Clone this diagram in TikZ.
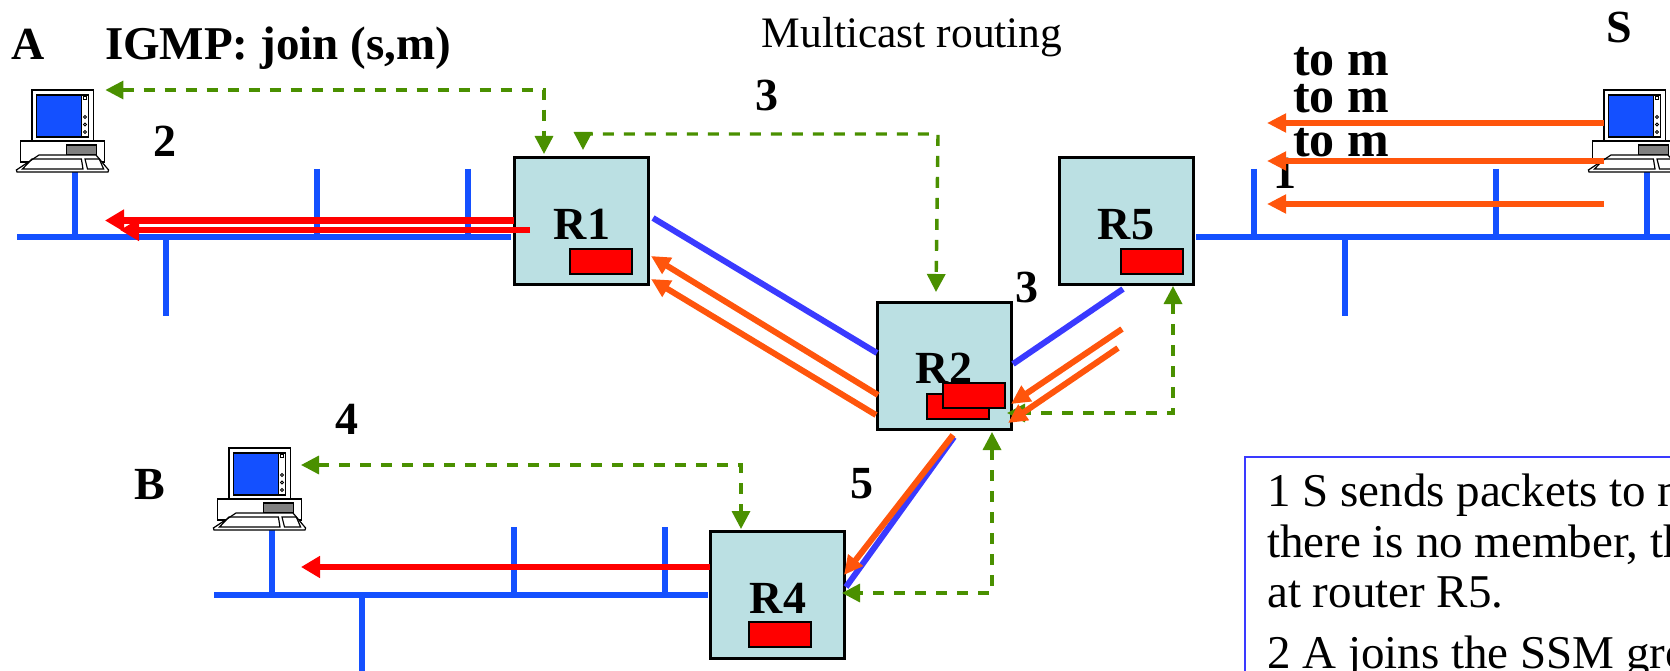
\documentclass[tikz,border=0pt]{standalone}
\usepackage{fontspec}
\setmainfont{Liberation Serif}
\usetikzlibrary{arrows.meta}

\definecolor{lanblue}{HTML}{1450FF}
\definecolor{linkblue}{HTML}{3A3AFF}
\definecolor{flow}{HTML}{FF550C}
\definecolor{signal}{HTML}{4A9000}
\definecolor{routerfill}{HTML}{BBE0E3}

\begin{document}
\begin{tikzpicture}[x=1pt, y=-1pt, line join=miter,
    router/.style={rectangle, draw=black, line width=3, fill=routerfill, minimum width=134, minimum height=127, inner sep=0},
    tabbox/.style={rectangle, draw=black, line width=2, fill=red, minimum width=62, minimum height=25, inner sep=0},
    pcbox/.style={rectangle, anchor=north west, minimum width=88, minimum height=82, inner sep=0},
    lbl/.style={anchor=base, inner sep=0, font=\fontsize{46}{50}\selectfont\bfseries},
    lbltwo/.style={anchor=base, inner sep=0, font=\fontsize{50}{50}\selectfont\bfseries},
    lan/.style={draw=lanblue, line width=5.6},
    linkline/.style={draw=linkblue, line width=6},
    packet/.style={draw=flow, line width=6, -{Triangle[length=19,width=18]}},
    mcast/.style={draw=red, line width=6.5, -{Triangle[length=19,width=21]}},
    signalling/.style={draw=signal, line width=3.4, dash pattern=on 11 off 10, {Triangle[length=18,width=18]}-{Triangle[length=18,width=18]}},
    pcpart/.style={draw=black, line width=1.2}]

   \useasboundingbox (0,0) rectangle (1670,671);
   \clip (0,0) rectangle (1670,671);

   % ethernet segments
   \foreach \x/\y/\u/\v in {17/237/511/237, 1196/237/1680/237, 214/595/708/595,
        75/172/75/237, 317/169/317/237, 468/169/468/237, 166/237/166/316,
        1254/169/1254/237, 1496/169/1496/237, 1647/172/1647/237, 1345/237/1345/316,
        272/530/272/595, 514/527/514/595, 665/527/665/595, 362/595/362/680}
     \draw[lan] (\x,\y) -- (\u,\v);

   % hosts
   \foreach \n/\x/\y in {pcA/32/90, pcB/229/448, pcS/1604/90} {
     \node [pcbox] (\n) at (\x-15,\y) {};
     \begin{scope}[shift={(\x,\y)}]
       \draw[pcpart, fill=white] (-11.3,51) rectangle (72.6,72);
       \draw[pcpart, fill=white] (0,0) rectangle (61.5,51);
       \draw[pcpart, fill=lanblue] (4.4,5) rectangle (49.4,47);
       \draw[pcpart, fill=white] (49.4,5) rectangle (56.6,47);
       \draw[line width=.8] (51.6,6.5) rectangle (54.6,9.5);
       \foreach \b in {27,34.5,42}
         \draw[line width=.8] (53,\b) circle (1.5);
       \draw[pcpart, fill=gray] (34.8,55) rectangle (64.4,65);
       \draw[pcpart, fill=white] (7,65) -- (64,65) -- (76.6,80) -- (76,82) -- (-15,82) -- (-15.6,80) -- cycle;
       \draw[pcpart] (0,69) -- (49.4,69) -- (51,79) -- (-9.5,79) -- cycle;
       \draw[pcpart] (53,69) -- (67.3,69) -- (71.6,79) -- (55.5,79) -- cycle;
     \end{scope}
   }

   % routers
   \foreach \n/\x/\y in {r1/581.5/221, r5/1126/221, r2/944/365.5, r4/777.5/594.5}
     \node [router] (\n) at (\x,\y) {};

   \foreach [count=\i] \x/\y/\t in {582/239/R1, 1126/239/R5, 944/383/R2, 778/613/R4,
        28/60/A, 278/60/{\fontsize{47}{50}\selectfont IGMP: join (s,m)}, 165/157/2, 767/111/3, 1027/302/3,
        862/498/5, 347/434/4, 150/499/B, 1619/43/S, 1285/189/1}
     \node [lbl] (lab\i) at (\x,\y) {\t};

   \foreach [count=\i] \x/\y/\t in {1341/76/to m, 1341/113/to m, 1341/157/to m}
     \node [lbltwo] (big\i) at (\x,\y) {\t};

   \node [anchor=base, inner sep=0, font=\fontsize{43.5}{46}\selectfont] (title) at (912,48) {Multicast routing};

   \foreach \n/\x/\y in {r1t/601/261, r5t/1151.5/261, r2t/958/406.5, r2u/973.5/395.5, r4t/779.5/634}
     \node [tabbox] (\n) at (\x,\y) {};

   % ends of the connectors
   \foreach \n/\x/\y in {a1/653/218, a2/877/353, b1/1013/364, b2/1123/289, c1/954/437, c2/846/587,
        d1/878/395, d2/651/256, e1/876/415, e2/651/279, f1/1122/329, f2/1011/404, g1/1118/348, g2/1008/423,
        h1/953/435, h2/844/575, i1/1604/123, i2/1267/123, j1/1604/161, j2/1267/161, k1/1604/204, k2/1267/204,
        m1/514/220.5, m2/105/220.5, n1/530/230, n2/120/230, o1/710/567, o2/301/567,
        p1/544/154, q1/583/150, q2/936/292, q3/583/134, q4/938/134, s1/1173/286, s2/1007/413,
        t1/992/432, t2/842/593, u1/741/529, u2/301/465}
     \coordinate (\n) at (\x,\y);

   % join messages
   \draw[signalling] (pcA.north east) -| (p1);
   \draw[signalling] (u2) -| (u1);
   \draw[signalling] (q1) -- (q3) -- (q4) -- (q2);
   \draw[signalling] (s1) |- (s2);
   \draw[signalling] (t1) |- (t2);

   % links and packets
   \foreach \a/\b in {a1/a2, b1/b2, c1/c2}
     \draw[linkline] (\a) -- (\b);

   \foreach \a/\b in {d1/d2, e1/e2, f1/f2, g1/g2, h1/h2, i1/i2, j1/j2, k1/k2}
     \draw[packet] (\a) -- (\b);

   \foreach \a/\b in {m1/m2, n1/n2, o1/o2}
     \draw[mcast] (\a) -- (\b);

   % explanation
   \node [draw=linkblue, line width=2, anchor=north west, minimum width=500, minimum height=300] (note) at (1244,456) {};
   \foreach [count=\i] \y/\t in {506/1 S sends packets to m, 557/{there is no member, th}, 607/at router R5., 668/2 A joins the SSM gro}
     \node [anchor=base west, inner sep=0, font=\fontsize{47}{50}\selectfont] (line\i) at (1267,\y) {\t};

\end{tikzpicture}
\end{document}
